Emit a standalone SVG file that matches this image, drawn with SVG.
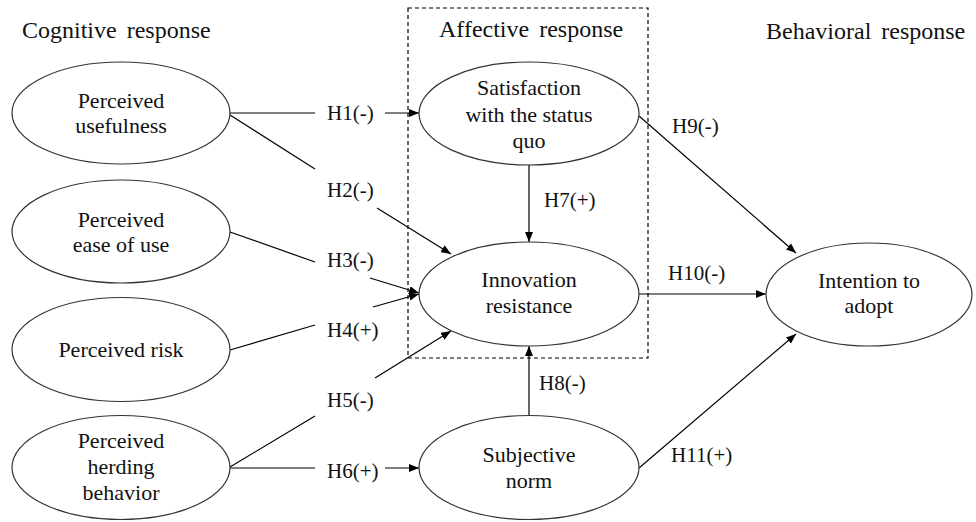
<svg xmlns="http://www.w3.org/2000/svg" width="976" height="522" viewBox="0 0 976 522">
<defs>
<marker id="arr" markerUnits="userSpaceOnUse" markerWidth="11" markerHeight="8" refX="10" refY="4" orient="auto">
<path d="M0,0 L10,4 L0,8 z" fill="#000"/>
</marker>
<style>
.node ellipse{fill:#fff;stroke:#333;stroke-width:1.2}
.nt{font-size:22px;text-anchor:middle;fill:#111}
.hd{font-size:24px;fill:#111;word-spacing:4px}
.lb{font-size:21px;fill:#111}
.c line{stroke:#000;stroke-width:1.2;fill:none}
.a{marker-end:url(#arr)}
</style>
</defs>
<rect width="976" height="522" fill="#fff"/>
<g id="headers">
<text class="hd" font-family="Liberation Serif" x="22" y="38">Cognitive response</text>
<text class="hd" font-family="Liberation Serif" x="439" y="37">Affective response</text>
<text class="hd" font-family="Liberation Serif" x="766" y="39">Behavioral response</text>
</g>
<rect id="affective-box" x="408" y="8" width="240" height="350" fill="none" stroke="#000" stroke-width="1.2" stroke-dasharray="4,3"/>
<g class="c" id="connectors">
<line x1="230" y1="113" x2="315" y2="113"/>
<line class="a" x1="385" y1="113" x2="419" y2="113"/>
<line x1="230" y1="115" x2="315" y2="169"/>
<line class="a" x1="377" y1="208" x2="451" y2="254"/>
<line x1="230" y1="232" x2="315" y2="262"/>
<line class="a" x1="370" y1="278" x2="419" y2="293"/>
<line x1="230" y1="350" x2="315" y2="325"/>
<line class="a" x1="373" y1="307" x2="419" y2="294"/>
<line x1="230" y1="467" x2="315" y2="416"/>
<line class="a" x1="375" y1="378" x2="451" y2="331"/>
<line x1="230" y1="468" x2="315" y2="468"/>
<line class="a" x1="385" y1="468" x2="419" y2="468"/>
<line class="a" x1="529" y1="165" x2="529" y2="242"/>
<line class="a" x1="529" y1="415" x2="529" y2="346"/>
<line class="a" x1="639" y1="116" x2="796" y2="253"/>
<line class="a" x1="639" y1="294" x2="766" y2="294"/>
<line class="a" x1="639" y1="468" x2="796" y2="334"/>
</g>
<g id="labels">
<text class="lb" font-family="Liberation Serif" x="327" y="120">H1(-)</text>
<text class="lb" font-family="Liberation Serif" x="327" y="197">H2(-)</text>
<text class="lb" font-family="Liberation Serif" x="327" y="267">H3(-)</text>
<text class="lb" font-family="Liberation Serif" x="327" y="337">H4(+)</text>
<text class="lb" font-family="Liberation Serif" x="327" y="407">H5(-)</text>
<text class="lb" font-family="Liberation Serif" x="327" y="478">H6(+)</text>
<text class="lb" font-family="Liberation Serif" x="544" y="207">H7(+)</text>
<text class="lb" font-family="Liberation Serif" x="539" y="390">H8(-)</text>
<text class="lb" font-family="Liberation Serif" x="672" y="133">H9(-)</text>
<text class="lb" font-family="Liberation Serif" x="668" y="280">H10(-)</text>
<text class="lb" font-family="Liberation Serif" x="671" y="462">H11(+)</text>
</g>
<g class="node" id="perceived-usefulness">
<ellipse cx="121" cy="113" rx="109" ry="51"/>
<text class="nt" font-family="Liberation Serif" x="121" y="108">Perceived</text>
<text class="nt" font-family="Liberation Serif" x="121" y="133">usefulness</text>
</g>
<g class="node" id="perceived-ease">
<ellipse cx="121" cy="231.5" rx="109" ry="51.5"/>
<text class="nt" font-family="Liberation Serif" x="121" y="227">Perceived</text>
<text class="nt" font-family="Liberation Serif" x="121" y="252">ease of use</text>
</g>
<g class="node" id="perceived-risk">
<ellipse cx="121" cy="349.5" rx="109" ry="52"/>
<text class="nt" font-family="Liberation Serif" x="121" y="357">Perceived risk</text>
</g>
<g class="node" id="perceived-herding">
<ellipse cx="121" cy="467.5" rx="109" ry="52"/>
<text class="nt" font-family="Liberation Serif" x="121" y="448">Perceived</text>
<text class="nt" font-family="Liberation Serif" x="121" y="474">herding</text>
<text class="nt" font-family="Liberation Serif" x="121" y="500">behavior</text>
</g>
<g class="node" id="satisfaction">
<ellipse cx="529" cy="113.5" rx="110" ry="51.5"/>
<text class="nt" font-family="Liberation Serif" x="529" y="95">Satisfaction</text>
<text class="nt" font-family="Liberation Serif" x="529" y="122">with the status</text>
<text class="nt" font-family="Liberation Serif" x="529" y="148">quo</text>
</g>
<g class="node" id="innovation-resistance">
<ellipse cx="529" cy="294" rx="110" ry="52"/>
<text class="nt" font-family="Liberation Serif" x="529" y="287">Innovation</text>
<text class="nt" font-family="Liberation Serif" x="529" y="313">resistance</text>
</g>
<g class="node" id="subjective-norm">
<ellipse cx="529" cy="467.5" rx="110" ry="52"/>
<text class="nt" font-family="Liberation Serif" x="529" y="462">Subjective</text>
<text class="nt" font-family="Liberation Serif" x="529" y="488">norm</text>
</g>
<g class="node" id="intention">
<ellipse cx="869" cy="294.5" rx="103" ry="51.5"/>
<text class="nt" font-family="Liberation Serif" x="869" y="288">Intention to</text>
<text class="nt" font-family="Liberation Serif" x="869" y="313">adopt</text>
</g>
</svg>
